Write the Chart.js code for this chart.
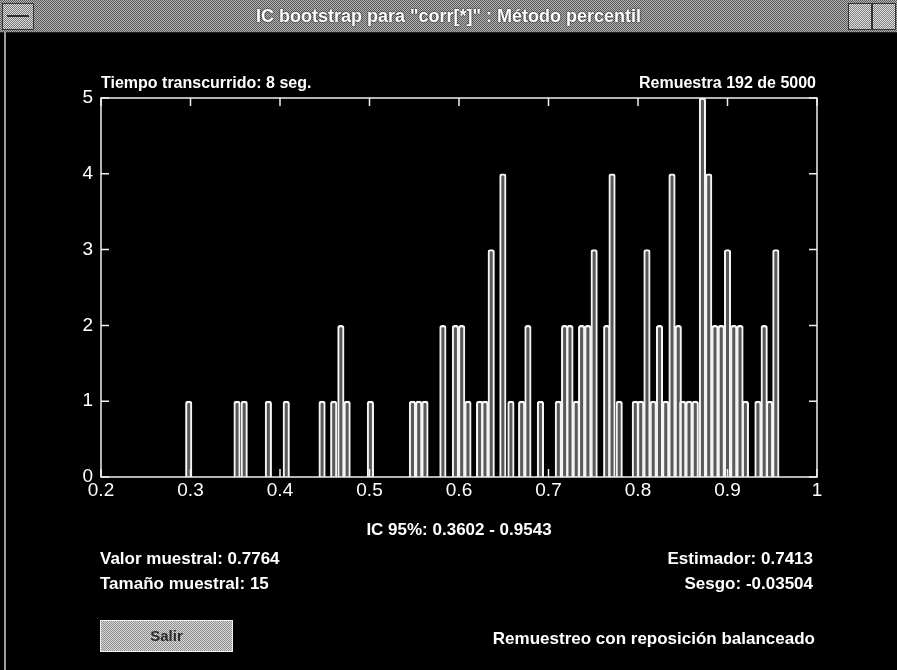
<!DOCTYPE html>
<html>
<head>
<meta charset="utf-8">
<script src="https://cdn.jsdelivr.net/npm/chart.js@4.4.1/dist/chart.umd.min.js"></script>
<style>
  html, body { margin: 0; padding: 0; background: #000; }
  #win { position: relative; width: 897px; height: 670px; overflow: hidden; background: #000; }
  #bar { position: absolute; left: 0; top: 0; width: 897px; height: 32px; z-index: 2;
    background: repeating-conic-gradient(#b4b4b4 0 25%, #5a5a5a 0 50%) 0 0/2px 2px;
    border-bottom: 1px solid #222; }
  #bar .t { position: absolute; left: 0; right: 0; top: 7px; text-align: center; color: #fff;
    font: bold 18px/18px "Liberation Sans", Arial, sans-serif; text-shadow: 0 0 2px #000; }
  #bar .sys { position: absolute; left: 2px; top: 3px; width: 30px; height: 25px;
    background: repeating-conic-gradient(#ddd 0 25%, #777 0 50%) 0 0/2px 2px; border: 1px solid #333; }
  #bar .sys:after { content: ""; position: absolute; left: 4px; right: 4px; top: 11px; height: 2px; background: #333; }
  #bar .btn { position: absolute; top: 3px; width: 22px; height: 25px;
    background: repeating-conic-gradient(#e0e0e0 0 25%, #808080 0 50%) 0 0/2px 2px; border: 1px solid #333; }
  #edge { position: absolute; left: 4px; top: 32px; width: 2px; height: 638px; background: #9a9a9a; z-index: 2; }
  canvas { position: absolute; left: 0; top: 0; z-index: 1; }
  .lbl { position: absolute; color: #fff; font: bold 17px/17px "Liberation Sans", Arial, sans-serif; white-space: nowrap; z-index: 2; }
  .top { font-size: 16px; line-height: 16px; }
  .r { text-align: right; }
  #salir { position: absolute; left: 100px; top: 620px; width: 131px; height: 30px; z-index: 2;
    background: repeating-conic-gradient(#dcdcdc 0 25%, #8a8a8a 0 50%) 0 0/2px 2px;
    border: 1px solid #eee; color: #2a2a2a; text-align: center;
    font: bold 15px/30px "Liberation Sans", Arial, sans-serif; }
</style>
</head>
<body>
<div id="win">
  <div id="bar">
    <div class="sys"></div>
    <div class="t">IC bootstrap para "corr[*]" : Método percentil</div>
    <div class="btn" style="left:848px"></div>
    <div class="btn" style="left:872px"></div>
  </div>
  <div id="edge"></div>
  <canvas id="hist" width="897" height="670"></canvas>

  <div class="lbl top" style="left:101px; top:75px">Tiempo transcurrido: 8 seg.</div>
  <div class="lbl top r" style="right:81px; top:75px">Remuestra 192 de 5000</div>
  <div class="lbl" style="left:101px; width:716px; text-align:center; top:521px">IC 95%: 0.3602 - 0.9543</div>
  <div class="lbl" style="left:100px; top:550px">Valor muestral: 0.7764</div>
  <div class="lbl" style="left:100px; top:575px">Tamaño muestral: 15</div>
  <div class="lbl r" style="right:84px; top:550px">Estimador: 0.7413</div>
  <div class="lbl r" style="right:84px; top:575px">Sesgo: -0.03504</div>
  <div id="salir">Salir</div>
  <div class="lbl r" style="right:82px; top:630px">Remuestreo con reposición balanceado</div>
</div>

<script>
// centros de las barras del histograma
const binCenters = [
  0.298, 0.352, 0.360, 0.387, 0.407, 0.447, 0.460, 0.468, 0.475, 0.501,
  0.548, 0.555, 0.562, 0.582, 0.596, 0.603, 0.610, 0.623, 0.629, 0.636,
  0.649, 0.658, 0.670, 0.677, 0.691, 0.711, 0.718, 0.724, 0.731, 0.737,
  0.744, 0.751, 0.765, 0.771, 0.779, 0.797, 0.803, 0.810, 0.817, 0.824,
  0.831, 0.838, 0.845, 0.850, 0.857, 0.864, 0.872, 0.879, 0.886, 0.893,
  0.900, 0.907, 0.914, 0.920, 0.934, 0.941, 0.947, 0.954
];
// frecuencias
const counts = [
  1, 1, 1, 1, 1, 1, 1, 2, 1, 1,
  1, 1, 1, 2, 2, 2, 1, 1, 1, 3,
  4, 1, 1, 2, 1, 1, 2, 2, 1, 2,
  2, 3, 2, 4, 1, 1, 1, 3, 1, 2,
  1, 4, 2, 1, 1, 1, 5, 4, 2, 2,
  3, 2, 2, 1, 1, 2, 1, 3
];
const xMin = 0.2, xMax = 1, xStep = 0.1;
const yMin = 0, yMax = 5, yStep = 1;

const tickFont = { family: 'Liberation Sans', size: 19 };

// caja con marcas hacia dentro (estilo matlab)
const boxPlugin = {
  id: 'box',
  afterDraw(chart) {
    const { ctx, chartArea: a, scales } = chart;
    const len = 8;
    ctx.save();
    ctx.strokeStyle = '#f0f0f0';
    ctx.lineWidth = 1.5;
    ctx.strokeRect(a.left, a.top, a.right - a.left, a.bottom - a.top);
    ctx.beginPath();
    scales.y.ticks.forEach(t => {
      const y = scales.y.getPixelForValue(t.value);
      ctx.moveTo(a.left, y); ctx.lineTo(a.left + len, y);
      ctx.moveTo(a.right, y); ctx.lineTo(a.right - len, y);
    });
    scales.x.ticks.forEach(t => {
      const x = scales.x.getPixelForValue(t.value);
      ctx.moveTo(x, a.top); ctx.lineTo(x, a.top + len);
      ctx.moveTo(x, a.bottom); ctx.lineTo(x, a.bottom - len);
    });
    ctx.stroke();
    ctx.restore();
  }
};

const ctx = document.getElementById('hist').getContext('2d');
const chart = new Chart(ctx, {
  type: 'bar',
  data: {
    datasets: [{
      data: binCenters.map((x, i) => ({ x: x, y: counts[i] })),
      backgroundColor: 'rgba(255,255,255,0.35)',
      borderColor: '#f4f4f4',
      borderWidth: 1.4,
      borderSkipped: 'bottom',
      borderRadius: { topLeft: 2.5, topRight: 2.5, bottomLeft: 0, bottomRight: 0 },
      barThickness: 6.5,
    }],
  },
  options: {
    responsive: false,
    animation: false,
    layout: { padding: { left: 71, right: 80, top: 98, bottom: 163 } },
    plugins: { legend: { display: false }, tooltip: { enabled: false } },
    scales: {
      x: {
        type: 'linear',
        min: xMin, max: xMax,
        offset: false,
        grid: { display: false, drawTicks: false, offset: false },
        border: { display: false },
        ticks: {
          stepSize: xStep, color: '#fff', font: tickFont, padding: 2,
          maxRotation: 0, autoSkip: false,
          callback: v => String(Math.round(v * 10) / 10),
        },
        afterFit: s => { s.height = 30; },
      },
      y: {
        min: yMin, max: yMax,
        grid: { display: false, drawTicks: false },
        border: { display: false },
        ticks: { stepSize: yStep, color: '#fff', font: tickFont, padding: 8 },
        afterFit: s => { s.width = 30; },
      },
    },
  },
  plugins: [boxPlugin],
});
</script>
</body>
</html>
